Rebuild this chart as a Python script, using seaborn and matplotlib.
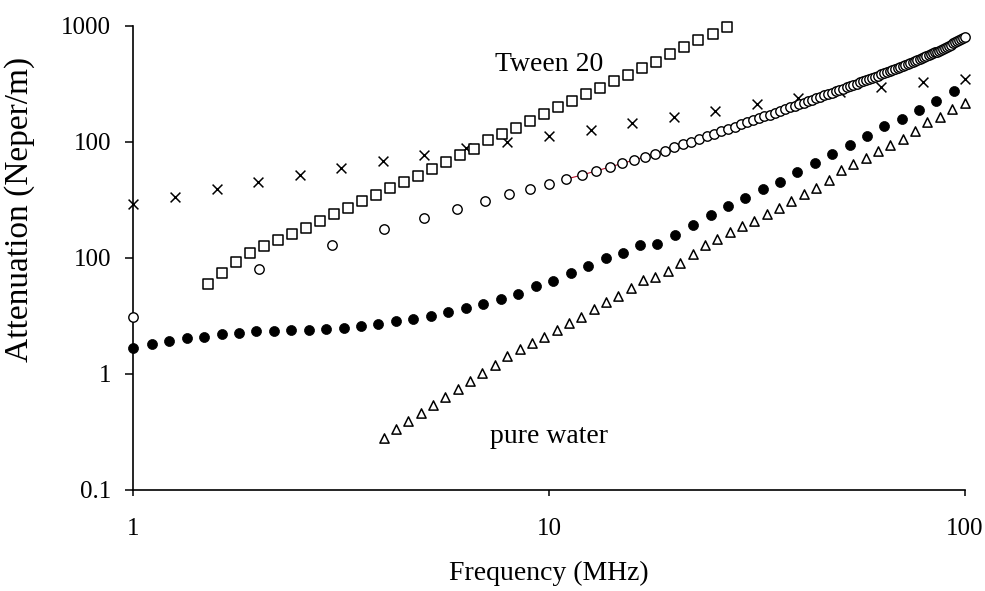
import matplotlib
matplotlib.use('Agg')
import matplotlib.pyplot as plt
import seaborn as sns
from matplotlib.ticker import FixedLocator, FixedFormatter, NullLocator

# ---------------- data ----------------
cross_freq = [1, 1.259, 1.585, 1.995, 2.512, 3.162, 3.981, 5.012, 6.310, 7.943, 10,
              12.59, 15.85, 19.95, 25.12, 31.62, 39.81, 50.12, 63.10, 79.43, 100]
cross_att = [29.1, 33.6, 39.1, 45.2, 51.4, 59.3, 67.8, 76.8, 87.7, 99.4, 112.6,
             126.9, 143.9, 163.2, 183.8, 210, 239, 268, 298, 325, 347]

square_freq = [1.509, 1.631, 1.762, 1.904, 2.058, 2.223, 2.403, 2.597, 2.806, 3.032,
               3.277, 3.541, 3.827, 4.136, 4.469, 4.838, 5.229, 5.651, 6.107, 6.599,
               7.132, 7.707, 8.329, 9.000, 9.727, 10.51, 11.36, 12.28, 13.27, 14.33,
               15.49, 16.74, 18.09, 19.55, 21.13, 22.88, 24.77, 26.78]
square_att = [5.98, 7.36, 9.29, 11.11, 12.71, 14.23, 16.03, 18.16, 20.6, 23.7,
              26.9, 30.8, 34.9, 39.7, 45.0, 50.9, 58.5, 66.5, 76.8, 86.0,
              102.8, 115.8, 130.4, 150.7, 172.2, 197.8, 225.5, 256, 292, 331,
              378, 429, 486, 569, 650, 752, 847, 978]

circle_freq = [1, 2, 3, 4, 5, 6, 7, 8, 9, 10, 11, 12, 13, 14, 15, 16, 17, 18, 19, 20,
               21, 22, 23, 24, 25, 26, 27, 28, 29, 30, 31, 32, 33, 34, 35, 36, 37, 38, 39, 40,
               41, 42, 43, 44, 45, 46, 47, 48, 49, 50, 51, 52, 53, 54, 55, 56, 57, 58, 59, 60,
               61, 62, 63, 64, 65, 66, 67, 68, 69, 70, 71, 72, 73, 74, 75, 76, 77, 78, 79, 80,
               81, 82, 83, 84, 85, 86, 87, 88, 89, 90, 91, 92, 93, 94, 95, 96, 97, 98, 99, 100]
circle_att = [3.11, 7.96, 12.9, 17.6, 22.1, 26.3, 31.0, 35.2, 39.4, 43.5,
              47.7, 51.7, 56.2, 60.5, 65.2, 69.5, 74.3, 79.0, 84.0, 89.5,
              94.9, 100.3, 105.8, 111.4, 117.0, 122.9, 128.8, 134.8, 140.9, 146.9,
              153.0, 159.2, 165.5, 171.8, 178.1, 184.5, 190.9, 197.4, 203.9, 210.5,
              217.3, 224.1, 230.9, 237.8, 244.7, 251.7, 258.8, 265.8, 272.9, 280.1,
              287.4, 294.9, 302.4, 309.9, 317.5, 325.2, 332.9, 340.6, 348.4, 356.2,
              364.2, 372.3, 380.6, 388.9, 397.3, 405.7, 414.1, 422.6, 431.1, 439.7,
              449.1, 458.3, 467.6, 476.9, 486.3, 495.7, 505.2, 514.8, 524.3, 534.0,
              544.7, 555.5, 566.4, 577.4, 588.4, 599.5, 610.7, 622.0, 633.3, 644.8,
              659.2, 673.8, 688.5, 703.4, 718.4, 733.6, 749.0, 764.5, 780.2, 796.1]

filled_freq = [1.00, 1.106, 1.217, 1.343, 1.478, 1.631, 1.795, 1.975, 2.175, 2.398,
               2.641, 2.911, 3.205, 3.528, 3.883, 4.276, 4.714, 5.200, 5.724, 6.302,
               6.949, 7.652, 8.437, 9.290, 10.22, 11.28, 12.41, 13.69, 15.07, 16.56,
               18.22, 20.10, 22.25, 24.50, 26.97, 29.68, 32.68, 35.97, 39.59, 43.61,
               48.07, 52.93, 58.25, 64.12, 70.61, 77.85, 85.54, 94.52]
filled_att = [1.682, 1.799, 1.932, 2.050, 2.079, 2.193, 2.264, 2.328, 2.356, 2.374,
              2.403, 2.436, 2.500, 2.586, 2.691, 2.839, 2.989, 3.153, 3.434, 3.695,
              4.000, 4.390, 4.907, 5.682, 6.351, 7.356, 8.551, 9.90, 11.04, 12.89,
              13.07, 15.72, 19.36, 23.23, 27.94, 32.74, 39.38, 45.24, 55.14, 65.16,
              77.89, 94.24, 111.3, 135.7, 157.8, 188.7, 224.1, 271.8]

tri_freq = [4.00, 4.284, 4.587, 4.912, 5.260, 5.633, 6.032, 6.460, 6.918, 7.408,
            7.934, 8.496, 9.098, 9.743, 10.43, 11.17, 11.96, 12.81, 13.72, 14.69,
            15.74, 16.85, 18.04, 19.32, 20.69, 22.16, 23.73, 25.41, 27.21, 29.14,
            31.21, 33.42, 35.79, 38.33, 41.04, 43.95, 47.07, 50.40, 53.98, 57.80,
            61.90, 66.29, 70.99, 76.02, 81.41, 87.18, 93.36, 100.0]
tri_att = [0.2788, 0.3353, 0.3914, 0.4577, 0.5429, 0.6364, 0.7372, 0.8685, 1.012, 1.200,
           1.435, 1.648, 1.834, 2.067, 2.388, 2.744, 3.109, 3.622, 4.137, 4.717,
           5.527, 6.40, 6.876, 7.744, 9.073, 10.72, 12.89, 14.52, 16.59, 18.91,
           20.88, 23.84, 27.01, 30.85, 35.65, 40.17, 46.79, 56.70, 63.88, 72.80,
           82.67, 94.24, 106.1, 122.9, 146.9, 164.2, 191.3, 215.4]

x_ticks = [1, 10, 100]
x_tick_labels = ['1', '10', '100']
y_ticks = [0.1, 1, 10, 100, 1000]
y_tick_labels = ['0.1', '1', '100', '100', '1000']

# ---------------- style ----------------
sns.set_style('ticks')
plt.rcParams['font.family'] = ['Liberation Serif', 'DejaVu Serif']

fig = plt.figure(figsize=(9.85, 5.91), dpi=100)
ax = fig.add_axes([0.1355, 0.1709, 0.8437, 0.7856])
ax.set_xscale('log')
ax.set_yscale('log')

sns.scatterplot(x=cross_freq, y=cross_att, marker='x', s=50, color='black',
                linewidth=1.1, ax=ax, zorder=3, clip_on=False)
sns.scatterplot(x=square_freq, y=square_att, marker='s', s=42, facecolor='white',
                edgecolor='black', linewidth=1.1, ax=ax, zorder=4, clip_on=False)
sns.lineplot(x=circle_freq[10:], y=circle_att[10:], color='#b8102a', linewidth=0.8,
             ax=ax, zorder=4.5, sort=False, estimator=None)
sns.scatterplot(x=circle_freq, y=circle_att, marker='o', s=46, facecolor='white',
                edgecolor='black', linewidth=1.0, ax=ax, zorder=5, clip_on=False)
sns.scatterplot(x=filled_freq, y=filled_att, marker='o', s=52, color='black',
                edgecolor='black', linewidth=0.5, ax=ax, zorder=6, clip_on=False)
sns.scatterplot(x=tri_freq, y=tri_att, marker='^', s=44, facecolor='white',
                edgecolor='black', linewidth=1.1, ax=ax, zorder=7, clip_on=False)

ax.set_xlim(1, 100)
ax.set_ylim(0.1, 1000)

ax.xaxis.set_major_locator(FixedLocator(x_ticks))
ax.xaxis.set_major_formatter(FixedFormatter(x_tick_labels))
ax.xaxis.set_minor_locator(NullLocator())
ax.yaxis.set_major_locator(FixedLocator(y_ticks))
ax.yaxis.set_major_formatter(FixedFormatter(y_tick_labels))
ax.yaxis.set_minor_locator(NullLocator())

ax.tick_params(axis='y', direction='out', length=6, width=1.1, pad=10,
               labelsize=18, colors='black')
ax.tick_params(axis='x', direction='out', length=4, width=1.1, pad=16,
               labelsize=18, colors='black')

for side in ['top', 'right']:
    ax.spines[side].set_visible(False)
for side in ['left', 'bottom']:
    ax.spines[side].set_color('black')
    ax.spines[side].set_linewidth(1.2)

ax.set_xlabel('Frequency (MHz)', fontsize=20, color='black')
ax.xaxis.set_label_coords(0.5, -0.152)
ax.set_ylabel('Attenuation (Neper/m)', fontsize=24, color='black')
ax.yaxis.set_label_coords(-0.118, 0.605)

ax.text(10, 406, 'Tween 20', ha='center', va='baseline', fontsize=20, color='black')
ax.text(10, 0.2555, 'pure water', ha='center', va='baseline', fontsize=20, color='black')

legend = ax.get_legend()
if legend is not None:
    legend.remove()

fig.savefig('out.png', dpi=100, facecolor='white')
